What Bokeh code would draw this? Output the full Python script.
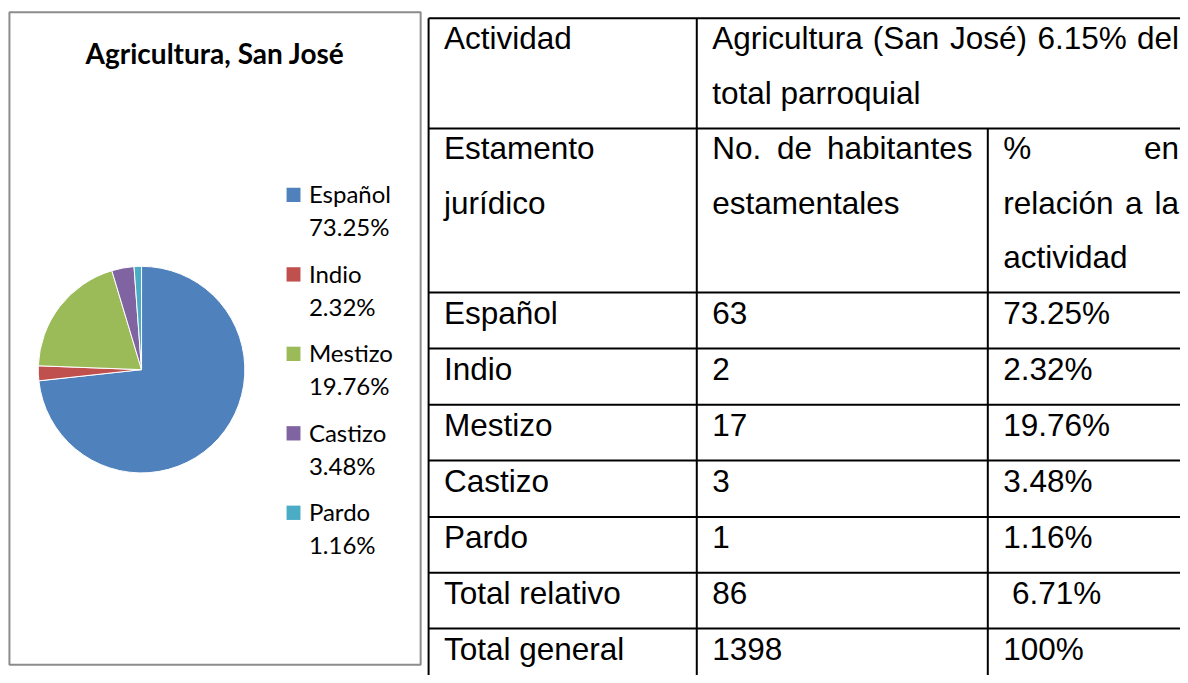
import math
from bokeh.plotting import figure
from bokeh.models import Range1d
from bokeh.core.properties import value
from bokeh.embed import file_html
from bokeh.resources import INLINE

# ---------------- data ----------------
titulo = "Agricultura, San José"
estamentos = ["Español", "Indio", "Mestizo", "Castizo", "Pardo"]
habitantes = [63, 2, 17, 3, 1]
porcentajes = [73.25, 2.32, 19.76, 3.48, 1.16]
colores = ["#4F81BD", "#C0504D", "#9BBB59", "#8064A2", "#4BACC6"]

enc_actividad = "Actividad"
actividad_lineas = ["Agricultura (San José) 6.15% del", "total parroquial"]
enc_estamento = ["Estamento", "jurídico"]
enc_habitantes = ["No. de habitantes", "estamentales"]
enc_porcentaje = ["% en", "relación a la", "actividad"]
totales_etiquetas = ["Total relativo", "Total general"]
totales_habitantes = [86, 1398]
totales_porcentajes = ["\u00a06.71%", "100%"]

# ---------------- layout ----------------
W, H = 1180, 675
RW, RH = 1188, 683  # layout coordinate frame
p = figure(width=W, height=H, x_range=Range1d(0, RW), y_range=Range1d(-RH, 0),
           output_backend="svg", toolbar_location=None, x_axis_type=None, y_axis_type=None,
           min_border=0)
p.outline_line_color = None
p.background_fill_color = "white"
p.border_fill_color = "white"

K = 0.33  # baseline correction (fraction of font size)

def Y(v):
    return -v

def YB(v, size):
    return -(v - K * size)

# chart box
p.quad(left=9, right=423, top=Y(12), bottom=Y(672), fill_color=None,
       line_color="#8c8c8c", line_width=2)

# title
TS = 28
p.text(x=[216], y=[YB(62, TS)], text=[titulo], text_align="center", text_baseline="alphabetic",
       text_font=value("Lato"), text_font_style="bold", text_font_size=f"{TS}px", text_color="black")

# pie
cx, cy, R = 142, 373.5, 104
tot = sum(porcentajes)
starts, ends = [], []
acc = 0.0
for v in porcentajes:
    starts.append(math.pi / 2 - 2 * math.pi * acc / tot)
    acc += v
    ends.append(math.pi / 2 - 2 * math.pi * acc / tot)
p.wedge(x=[cx] * len(porcentajes), y=[Y(cy)] * len(porcentajes), radius=R,
        start_angle=starts, end_angle=ends, direction="clock",
        fill_color=colores, line_color="white", line_width=1)

# legend
LS = 24
lg_top, lg_step = 189.5, 80.4
for i, (name, v, c) in enumerate(zip(estamentos, porcentajes, colores)):
    t = lg_top + i * lg_step
    p.quad(left=288, right=302, top=Y(t), bottom=Y(t + 14.5), fill_color=c, line_color=None)
    p.text(x=[310.5, 310.5], y=[YB(t + 14.2, LS), YB(t + 47.5, LS)], text=[name, f"{v:.2f}%"],
           text_align="left", text_baseline="alphabetic", text_font=value("Lato"),
           text_font_size=f"{LS}px", text_color="black")

# ---------------- table ----------------
FS = 31.5
col_x = [431, 701, 994, 1202]
pad = 15.5
row_y = [18, 129.5, 295.5, 352, 409, 465.5, 522.5, 579, 635.5, 692]
line_sp = 55
base_off = 30.5

AW = {' ': 278, '%': 889, '.': 278, '(': 333, ')': 333, 'A': 667, 'E': 667, 'J': 500,
      'N': 722, 'S': 667, 'a': 556, 'b': 556, 'c': 500, 'd': 556, 'e': 556, 'g': 556,
      'h': 556, 'i': 222, 'l': 222, 'm': 833, 'n': 556, 'o': 556, 'p': 556, 'q': 556,
      'r': 333, 's': 500, 't': 278, 'u': 556, 'v': 500, 'é': 556, 'ó': 556, 'í': 278,
      'ñ': 556, 'j': 222}

def tw(s):
    return sum(AW.get(ch, 556) for ch in s) * FS / 1000.0

left_x, left_y, left_t = [], [], []
right_x, right_y, right_t = [], [], []

def put(s, x, y):
    left_x.append(x); left_y.append(YB(y, FS)); left_t.append(s)

def justify(line, x0, x1, y):
    words = line.split(" ")
    if len(words) == 1:
        put(line, x0, y); return
    nat = sum(tw(w) for w in words)
    gap = (x1 - x0 - nat) / (len(words) - 1)
    x = x0
    for w in words[:-1]:
        put(w, x, y)
        x += tw(w) + gap
    right_x.append(x1); right_y.append(YB(y, FS)); right_t.append(words[-1])

# header row 1
b = row_y[0] + base_off
put(enc_actividad, col_x[0] + pad, b)
justify(actividad_lineas[0], col_x[1] + pad, col_x[3] - pad, b)
put(actividad_lineas[1], col_x[1] + pad, b + line_sp)

# header row 2
b = row_y[1] + base_off
for k, s in enumerate(enc_estamento):
    put(s, col_x[0] + pad, b + k * line_sp)
justify(enc_habitantes[0], col_x[1] + pad, col_x[2] - pad, b)
put(enc_habitantes[1], col_x[1] + pad, b + line_sp)
justify(enc_porcentaje[0], col_x[2] + pad, col_x[3] - pad, b)
justify(enc_porcentaje[1], col_x[2] + pad, col_x[3] - pad, b + line_sp)
put(enc_porcentaje[2], col_x[2] + pad, b + 2 * line_sp)

# data rows
filas = list(zip(estamentos + totales_etiquetas,
                 [str(h) for h in habitantes] + [str(h) for h in totales_habitantes],
                 [f"{v:.2f}%" for v in porcentajes] + totales_porcentajes))
for r, (a, h, pc) in enumerate(filas):
    b = row_y[2 + r] + base_off + 0.5
    put(a, col_x[0] + pad, b)
    put(h, col_x[1] + pad, b)
    put(pc, col_x[2] + pad, b)

common = dict(text_baseline="alphabetic", text_font=value("Liberation Sans"),
              text_font_size=f"{FS}px", text_color="black")
p.text(x=left_x, y=left_y, text=left_t, text_align="left", **common)
p.text(x=right_x, y=right_y, text=right_t, text_align="right", **common)

# table grid lines
hx0, hx1, hy = [], [], []
for yy in row_y:
    hx0.append(col_x[0]); hx1.append(col_x[3]); hy.append(Y(yy))
p.segment(x0=hx0, x1=hx1, y0=hy, y1=hy, line_color="black", line_width=2)
vx = [col_x[0], col_x[1], col_x[2], col_x[3]]
vy0 = [row_y[0], row_y[0], row_y[1], row_y[0]]
p.segment(x0=vx, x1=vx, y0=[Y(v) for v in vy0], y1=[Y(row_y[-1])] * 4,
          line_color="black", line_width=2)

open("out.html", "w").write(file_html(p, INLINE))
